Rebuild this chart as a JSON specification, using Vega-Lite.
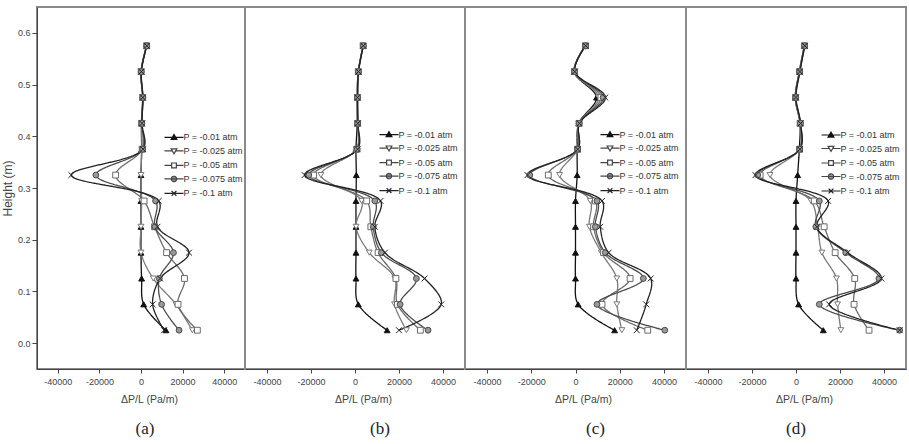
{
  "$schema": "https://vega.github.io/schema/vega-lite/v6.json",
  "padding": {"left": 0, "top": 6, "right": 4, "bottom": 0},
  "background": "white",
  "datasets": {
    "a": [
      {"series":"-0.01","height":0.025,"dpdl":12000},{"series":"-0.01","height":0.075,"dpdl":1300},{"series":"-0.01","height":0.125,"dpdl":300},{"series":"-0.01","height":0.175,"dpdl":0},{"series":"-0.01","height":0.225,"dpdl":0},{"series":"-0.01","height":0.275,"dpdl":0},{"series":"-0.01","height":0.325,"dpdl":0},{"series":"-0.01","height":0.375,"dpdl":300},{"series":"-0.01","height":0.425,"dpdl":200},{"series":"-0.01","height":0.475,"dpdl":800},{"series":"-0.01","height":0.525,"dpdl":0},{"series":"-0.01","height":0.575,"dpdl":2700},
      {"series":"-0.025","height":0.025,"dpdl":24700},{"series":"-0.025","height":0.075,"dpdl":16800},{"series":"-0.025","height":0.125,"dpdl":5900},{"series":"-0.025","height":0.175,"dpdl":0},{"series":"-0.025","height":0.225,"dpdl":0},{"series":"-0.025","height":0.275,"dpdl":300},{"series":"-0.025","height":0.325,"dpdl":0},{"series":"-0.025","height":0.375,"dpdl":400},{"series":"-0.025","height":0.425,"dpdl":300},{"series":"-0.025","height":0.475,"dpdl":800},{"series":"-0.025","height":0.525,"dpdl":0},{"series":"-0.025","height":0.575,"dpdl":2700},
      {"series":"-0.05","height":0.025,"dpdl":27100},{"series":"-0.05","height":0.075,"dpdl":17800},{"series":"-0.05","height":0.125,"dpdl":20900},{"series":"-0.05","height":0.175,"dpdl":12300},{"series":"-0.05","height":0.225,"dpdl":6500},{"series":"-0.05","height":0.275,"dpdl":1500},{"series":"-0.05","height":0.325,"dpdl":-12200},{"series":"-0.05","height":0.375,"dpdl":600},{"series":"-0.05","height":0.425,"dpdl":300},{"series":"-0.05","height":0.475,"dpdl":800},{"series":"-0.05","height":0.525,"dpdl":100},{"series":"-0.05","height":0.575,"dpdl":2700},
      {"series":"-0.075","height":0.025,"dpdl":18300},{"series":"-0.075","height":0.075,"dpdl":9900},{"series":"-0.075","height":0.125,"dpdl":8800},{"series":"-0.075","height":0.175,"dpdl":15600},{"series":"-0.075","height":0.225,"dpdl":6700},{"series":"-0.075","height":0.275,"dpdl":7000},{"series":"-0.075","height":0.325,"dpdl":-21700},{"series":"-0.075","height":0.375,"dpdl":800},{"series":"-0.075","height":0.425,"dpdl":400},{"series":"-0.075","height":0.475,"dpdl":900},{"series":"-0.075","height":0.525,"dpdl":100},{"series":"-0.075","height":0.575,"dpdl":2800},
      {"series":"-0.1","height":0.025,"dpdl":11100},{"series":"-0.1","height":0.075,"dpdl":5600},{"series":"-0.1","height":0.125,"dpdl":9200},{"series":"-0.1","height":0.175,"dpdl":23100},{"series":"-0.1","height":0.225,"dpdl":7900},{"series":"-0.1","height":0.275,"dpdl":8500},{"series":"-0.1","height":0.325,"dpdl":-33500},{"series":"-0.1","height":0.375,"dpdl":1000},{"series":"-0.1","height":0.425,"dpdl":500},{"series":"-0.1","height":0.475,"dpdl":900},{"series":"-0.1","height":0.525,"dpdl":200},{"series":"-0.1","height":0.575,"dpdl":2800}
    ],
    "b": [
      {"series":"-0.01","height":0.025,"dpdl":14600},{"series":"-0.01","height":0.075,"dpdl":1500},{"series":"-0.01","height":0.125,"dpdl":450},{"series":"-0.01","height":0.175,"dpdl":450},{"series":"-0.01","height":0.225,"dpdl":450},{"series":"-0.01","height":0.275,"dpdl":450},{"series":"-0.01","height":0.325,"dpdl":600},{"series":"-0.01","height":0.375,"dpdl":450},{"series":"-0.01","height":0.425,"dpdl":1000},{"series":"-0.01","height":0.475,"dpdl":1000},{"series":"-0.01","height":0.525,"dpdl":1500},{"series":"-0.01","height":0.575,"dpdl":3700},
      {"series":"-0.025","height":0.025,"dpdl":23400},{"series":"-0.025","height":0.075,"dpdl":18000},{"series":"-0.025","height":0.125,"dpdl":18100},{"series":"-0.025","height":0.175,"dpdl":6500},{"series":"-0.025","height":0.225,"dpdl":500},{"series":"-0.025","height":0.275,"dpdl":3000},{"series":"-0.025","height":0.325,"dpdl":-15500},{"series":"-0.025","height":0.375,"dpdl":600},{"series":"-0.025","height":0.425,"dpdl":1100},{"series":"-0.025","height":0.475,"dpdl":1000},{"series":"-0.025","height":0.525,"dpdl":1500},{"series":"-0.025","height":0.575,"dpdl":3700},
      {"series":"-0.05","height":0.025,"dpdl":29700},{"series":"-0.05","height":0.075,"dpdl":19300},{"series":"-0.05","height":0.125,"dpdl":18600},{"series":"-0.05","height":0.175,"dpdl":10500},{"series":"-0.05","height":0.225,"dpdl":7200},{"series":"-0.05","height":0.275,"dpdl":5300},{"series":"-0.05","height":0.325,"dpdl":-18800},{"series":"-0.05","height":0.375,"dpdl":800},{"series":"-0.05","height":0.425,"dpdl":1200},{"series":"-0.05","height":0.475,"dpdl":1100},{"series":"-0.05","height":0.525,"dpdl":1500},{"series":"-0.05","height":0.575,"dpdl":3700},
      {"series":"-0.075","height":0.025,"dpdl":33200},{"series":"-0.075","height":0.075,"dpdl":20500},{"series":"-0.075","height":0.125,"dpdl":27900},{"series":"-0.075","height":0.175,"dpdl":12000},{"series":"-0.075","height":0.225,"dpdl":8300},{"series":"-0.075","height":0.275,"dpdl":9000},{"series":"-0.075","height":0.325,"dpdl":-21000},{"series":"-0.075","height":0.375,"dpdl":1000},{"series":"-0.075","height":0.425,"dpdl":1200},{"series":"-0.075","height":0.475,"dpdl":1200},{"series":"-0.075","height":0.525,"dpdl":1600},{"series":"-0.075","height":0.575,"dpdl":3800},
      {"series":"-0.1","height":0.025,"dpdl":20000},{"series":"-0.1","height":0.075,"dpdl":39200},{"series":"-0.1","height":0.125,"dpdl":31600},{"series":"-0.1","height":0.175,"dpdl":13600},{"series":"-0.1","height":0.225,"dpdl":9000},{"series":"-0.1","height":0.275,"dpdl":11600},{"series":"-0.1","height":0.325,"dpdl":-22900},{"series":"-0.1","height":0.375,"dpdl":1200},{"series":"-0.1","height":0.425,"dpdl":1300},{"series":"-0.1","height":0.475,"dpdl":1200},{"series":"-0.1","height":0.525,"dpdl":1600},{"series":"-0.1","height":0.575,"dpdl":3800}
    ],
    "c": [
      {"series":"-0.01","height":0.025,"dpdl":17700},{"series":"-0.01","height":0.075,"dpdl":1200},{"series":"-0.01","height":0.125,"dpdl":0},{"series":"-0.01","height":0.175,"dpdl":0},{"series":"-0.01","height":0.225,"dpdl":0},{"series":"-0.01","height":0.275,"dpdl":0},{"series":"-0.01","height":0.325,"dpdl":750},{"series":"-0.01","height":0.375,"dpdl":750},{"series":"-0.01","height":0.425,"dpdl":1500},{"series":"-0.01","height":0.475,"dpdl":9500},{"series":"-0.01","height":0.525,"dpdl":-600},{"series":"-0.01","height":0.575,"dpdl":4400},
      {"series":"-0.025","height":0.025,"dpdl":21000},{"series":"-0.025","height":0.075,"dpdl":18700},{"series":"-0.025","height":0.125,"dpdl":18700},{"series":"-0.025","height":0.175,"dpdl":11700},{"series":"-0.025","height":0.225,"dpdl":6300},{"series":"-0.025","height":0.275,"dpdl":6700},{"series":"-0.025","height":0.325,"dpdl":-7200},{"series":"-0.025","height":0.375,"dpdl":900},{"series":"-0.025","height":0.425,"dpdl":1500},{"series":"-0.025","height":0.475,"dpdl":10500},{"series":"-0.025","height":0.525,"dpdl":-600},{"series":"-0.025","height":0.575,"dpdl":4400},
      {"series":"-0.05","height":0.025,"dpdl":32700},{"series":"-0.05","height":0.075,"dpdl":12000},{"series":"-0.05","height":0.125,"dpdl":24700},{"series":"-0.05","height":0.175,"dpdl":12700},{"series":"-0.05","height":0.225,"dpdl":8200},{"series":"-0.05","height":0.275,"dpdl":9000},{"series":"-0.05","height":0.325,"dpdl":-12300},{"series":"-0.05","height":0.375,"dpdl":900},{"series":"-0.05","height":0.425,"dpdl":1600},{"series":"-0.05","height":0.475,"dpdl":11500},{"series":"-0.05","height":0.525,"dpdl":-500},{"series":"-0.05","height":0.575,"dpdl":4500},
      {"series":"-0.075","height":0.025,"dpdl":40400},{"series":"-0.075","height":0.075,"dpdl":9700},{"series":"-0.075","height":0.125,"dpdl":30700},{"series":"-0.075","height":0.175,"dpdl":13500},{"series":"-0.075","height":0.225,"dpdl":9000},{"series":"-0.075","height":0.275,"dpdl":9700},{"series":"-0.075","height":0.325,"dpdl":-20700},{"series":"-0.075","height":0.375,"dpdl":1000},{"series":"-0.075","height":0.425,"dpdl":1700},{"series":"-0.075","height":0.475,"dpdl":12500},{"series":"-0.075","height":0.525,"dpdl":-400},{"series":"-0.075","height":0.575,"dpdl":4600},
      {"series":"-0.1","height":0.025,"dpdl":27700},{"series":"-0.1","height":0.075,"dpdl":32000},{"series":"-0.1","height":0.125,"dpdl":34000},{"series":"-0.1","height":0.175,"dpdl":15000},{"series":"-0.1","height":0.225,"dpdl":11200},{"series":"-0.1","height":0.275,"dpdl":12000},{"series":"-0.1","height":0.325,"dpdl":-21700},{"series":"-0.1","height":0.375,"dpdl":1000},{"series":"-0.1","height":0.425,"dpdl":1800},{"series":"-0.1","height":0.475,"dpdl":13500},{"series":"-0.1","height":0.525,"dpdl":-300},{"series":"-0.1","height":0.575,"dpdl":4600}
    ],
    "d": [
      {"series":"-0.01","height":0.025,"dpdl":12400},{"series":"-0.01","height":0.075,"dpdl":1200},{"series":"-0.01","height":0.125,"dpdl":0},{"series":"-0.01","height":0.175,"dpdl":0},{"series":"-0.01","height":0.225,"dpdl":0},{"series":"-0.01","height":0.275,"dpdl":0},{"series":"-0.01","height":0.325,"dpdl":750},{"series":"-0.01","height":0.375,"dpdl":1500},{"series":"-0.01","height":0.425,"dpdl":1800},{"series":"-0.01","height":0.475,"dpdl":-300},{"series":"-0.01","height":0.525,"dpdl":1500},{"series":"-0.01","height":0.575,"dpdl":3800},
      {"series":"-0.025","height":0.025,"dpdl":20400},{"series":"-0.025","height":0.075,"dpdl":18900},{"series":"-0.025","height":0.125,"dpdl":18400},{"series":"-0.025","height":0.175,"dpdl":11800},{"series":"-0.025","height":0.225,"dpdl":9800},{"series":"-0.025","height":0.275,"dpdl":6800},{"series":"-0.025","height":0.325,"dpdl":-11800},{"series":"-0.025","height":0.375,"dpdl":1500},{"series":"-0.025","height":0.425,"dpdl":1800},{"series":"-0.025","height":0.475,"dpdl":-300},{"series":"-0.025","height":0.525,"dpdl":1500},{"series":"-0.025","height":0.575,"dpdl":3800},
      {"series":"-0.05","height":0.025,"dpdl":33200},{"series":"-0.05","height":0.075,"dpdl":26400},{"series":"-0.05","height":0.125,"dpdl":26700},{"series":"-0.05","height":0.175,"dpdl":17800},{"series":"-0.05","height":0.225,"dpdl":12800},{"series":"-0.05","height":0.275,"dpdl":8300},{"series":"-0.05","height":0.325,"dpdl":-16300},{"series":"-0.05","height":0.375,"dpdl":1600},{"series":"-0.05","height":0.425,"dpdl":1900},{"series":"-0.05","height":0.475,"dpdl":-200},{"series":"-0.05","height":0.525,"dpdl":1600},{"series":"-0.05","height":0.575,"dpdl":3900},
      {"series":"-0.075","height":0.025,"dpdl":47100},{"series":"-0.075","height":0.075,"dpdl":10600},{"series":"-0.075","height":0.125,"dpdl":37700},{"series":"-0.075","height":0.175,"dpdl":22600},{"series":"-0.075","height":0.225,"dpdl":9000},{"series":"-0.075","height":0.275,"dpdl":10600},{"series":"-0.075","height":0.325,"dpdl":-17400},{"series":"-0.075","height":0.375,"dpdl":1700},{"series":"-0.075","height":0.425,"dpdl":2000},{"series":"-0.075","height":0.475,"dpdl":-100},{"series":"-0.075","height":0.525,"dpdl":1700},{"series":"-0.075","height":0.575,"dpdl":3900},
      {"series":"-0.1","height":0.025,"dpdl":47100},{"series":"-0.1","height":0.075,"dpdl":15100},{"series":"-0.1","height":0.125,"dpdl":38800},{"series":"-0.1","height":0.175,"dpdl":23500},{"series":"-0.1","height":0.225,"dpdl":9500},{"series":"-0.1","height":0.275,"dpdl":14600},{"series":"-0.1","height":0.325,"dpdl":-18400},{"series":"-0.1","height":0.375,"dpdl":1800},{"series":"-0.1","height":0.425,"dpdl":2100},{"series":"-0.1","height":0.475,"dpdl":0},{"series":"-0.1","height":0.525,"dpdl":1800},{"series":"-0.1","height":0.575,"dpdl":4000}
    ]
  },
  "resolve": {
    "scale": {"x": "independent", "y": "independent", "shape": "independent", "fill": "independent", "stroke": "independent", "strokeDash": "independent"},
    "legend": {"shape": "independent", "fill": "independent", "stroke": "independent", "strokeDash": "independent"}
  },
  "spacing": 0,
  "bounds": "flush",
  "hconcat": [
    {
      "width": 208, "height": 362,
      "data": {"name": "a"},
      "title": {"text": "(a)", "dx": 4},
      "encoding": {
        "x": {"field": "dpdl", "type": "quantitative", "scale": {"domain": [-50000, 50000], "nice": false},
              "axis": {"values": [-40000, -20000, 0, 20000, 40000], "labelExpr": "'' + datum.value", "title": "ΔP/L (Pa/m)", "titleX": 112}},
        "y": {"field": "height", "type": "quantitative", "scale": {"domain": [-0.05, 0.65], "nice": false, "zero": false},
              "axis": {"values": [0, 0.1, 0.2, 0.3, 0.4, 0.5, 0.6], "format": ".1f", "title": "Height (m)", "tickSize": 5, "labelPadding": 2, "titlePadding": 3, "titleFontSize": 12}},
        "stroke": {"field": "series", "type": "nominal", "scale": {"domain": ["-0.1", "-0.075", "-0.05", "-0.025", "-0.01"], "range": ["#222222", "#4a4a4a", "#6a6a6a", "#7a7a7a", "#111111"]}, "legend": null}
      },
      "layer": [
        {
          "mark": {"type": "line", "interpolate": "catmull-rom", "strokeWidth": 1.3},
          "encoding": {
            "order": {"field": "height", "type": "quantitative"},
            "strokeDash": {"field": "series", "type": "nominal",
              "scale": {"domain": ["-0.01", "-0.025", "-0.05", "-0.075", "-0.1"], "range": [[1, 0], [1, 0], [1, 0], [1, 0], [1, 0]]},
              "legend": {"orient": "none", "legendX": 129, "legendY": 122.4, "title": null, "padding": 0, "symbolSize": 196, "labelOffset": 1.5, "rowPadding": 0.5,
                "labelExpr": "'P = ' + datum.label + ' atm'", "labelFontSize": 9, "labelColor": "#333", "symbolStrokeWidth": 1.2,
                "encode": {"symbols": {"update": {
                  "shape": {"signal": "datum.value === '-0.01' ? 'M-1.36,0H1.36M0,-0.41L0.41,0.3L-0.41,0.3Z' : datum.value === '-0.025' ? 'M-1.36,0H-0.23M0.23,0H1.36M-0.41,-0.3L0.41,-0.3L0,0.41Z' : datum.value === '-0.05' ? 'M-1.36,0H-0.34M0.34,0H1.36M-0.34,-0.34H0.34V0.34H-0.34Z' : datum.value === '-0.075' ? 'M-1.36,0H1.36M0.38,0A0.38,0.38 0 1,1 -0.38,0A0.38,0.38 0 1,1 0.38,0Z' : 'M-1.36,0H1.36M-0.34,-0.34L0.34,0.34M-0.34,0.34L0.34,-0.34'"},
                  "fill": {"signal": "datum.value === '-0.01' ? '#111' : datum.value === '-0.075' ? '#999' : '#fff'"},
                  "stroke": {"signal": "datum.value === '-0.01' ? '#111' : datum.value === '-0.1' ? '#222' : '#444'"}
                }}}}}
          }
        },
        {
          "mark": {"type": "point", "size": 34, "strokeWidth": 1, "opacity": 1},
          "encoding": {
            "shape": {"field": "series", "type": "nominal", "scale": {"domain": ["-0.1", "-0.075", "-0.05", "-0.025", "-0.01"], "range": ["M-1,-1L1,1M-1,1L1,-1", "circle", "square", "triangle-down", "triangle-up"]}, "legend": null},
            "fill": {"field": "series", "type": "nominal", "scale": {"domain": ["-0.1", "-0.075", "-0.05", "-0.025", "-0.01"], "range": ["#333333", "#999999", "#ffffff", "#ffffff", "#111111"]}, "legend": null}
          }
        }
      ]
    },
    {
      "width": 220, "height": 362,
      "data": {"name": "b"},
      "title": {"text": "(b)", "dx": 25},
      "encoding": {
        "x": {"field": "dpdl", "type": "quantitative", "scale": {"domain": [-50000, 50000], "nice": false},
              "axis": {"values": [-40000, -20000, 0, 20000, 40000], "labelExpr": "'' + datum.value", "title": "ΔP/L (Pa/m)", "titleX": 118}},
        "y": {"field": "height", "type": "quantitative", "scale": {"domain": [-0.05, 0.65], "nice": false, "zero": false}, "axis": null},
        "stroke": {"field": "series", "type": "nominal", "scale": {"domain": ["-0.1", "-0.075", "-0.05", "-0.025", "-0.01"], "range": ["#222222", "#4a4a4a", "#6a6a6a", "#7a7a7a", "#111111"]}, "legend": null}
      },
      "layer": [
        {
          "mark": {"type": "line", "interpolate": "catmull-rom", "strokeWidth": 1.3},
          "encoding": {
            "order": {"field": "height", "type": "quantitative"},
            "strokeDash": {"field": "series", "type": "nominal",
              "scale": {"domain": ["-0.01", "-0.025", "-0.05", "-0.075", "-0.1"], "range": [[1, 0], [1, 0], [1, 0], [1, 0], [1, 0]]},
              "legend": {"orient": "none", "legendX": 136, "legendY": 119.6, "title": null, "padding": 0, "symbolSize": 196, "labelOffset": 1.5, "rowPadding": 0.5,
                "labelExpr": "'P = ' + datum.label + ' atm'", "labelFontSize": 9, "labelColor": "#333", "symbolStrokeWidth": 1.2,
                "encode": {"symbols": {"update": {
                  "shape": {"signal": "datum.value === '-0.01' ? 'M-1.36,0H1.36M0,-0.41L0.41,0.3L-0.41,0.3Z' : datum.value === '-0.025' ? 'M-1.36,0H-0.23M0.23,0H1.36M-0.41,-0.3L0.41,-0.3L0,0.41Z' : datum.value === '-0.05' ? 'M-1.36,0H-0.34M0.34,0H1.36M-0.34,-0.34H0.34V0.34H-0.34Z' : datum.value === '-0.075' ? 'M-1.36,0H1.36M0.38,0A0.38,0.38 0 1,1 -0.38,0A0.38,0.38 0 1,1 0.38,0Z' : 'M-1.36,0H1.36M-0.34,-0.34L0.34,0.34M-0.34,0.34L0.34,-0.34'"},
                  "fill": {"signal": "datum.value === '-0.01' ? '#111' : datum.value === '-0.075' ? '#999' : '#fff'"},
                  "stroke": {"signal": "datum.value === '-0.01' ? '#111' : datum.value === '-0.1' ? '#222' : '#444'"}
                }}}}}
          }
        },
        {
          "mark": {"type": "point", "size": 34, "strokeWidth": 1, "opacity": 1},
          "encoding": {
            "shape": {"field": "series", "type": "nominal", "scale": {"domain": ["-0.1", "-0.075", "-0.05", "-0.025", "-0.01"], "range": ["M-1,-1L1,1M-1,1L1,-1", "circle", "square", "triangle-down", "triangle-up"]}, "legend": null},
            "fill": {"field": "series", "type": "nominal", "scale": {"domain": ["-0.1", "-0.075", "-0.05", "-0.025", "-0.01"], "range": ["#333333", "#999999", "#ffffff", "#ffffff", "#111111"]}, "legend": null}
          }
        }
      ]
    },
    {
      "width": 221, "height": 362,
      "data": {"name": "c"},
      "title": {"text": "(c)", "dx": 20},
      "encoding": {
        "x": {"field": "dpdl", "type": "quantitative", "scale": {"domain": [-50000, 50000], "nice": false},
              "axis": {"values": [-40000, -20000, 0, 20000, 40000], "labelExpr": "'' + datum.value", "title": "ΔP/L (Pa/m)", "titleX": 118}},
        "y": {"field": "height", "type": "quantitative", "scale": {"domain": [-0.05, 0.65], "nice": false, "zero": false}, "axis": null},
        "stroke": {"field": "series", "type": "nominal", "scale": {"domain": ["-0.1", "-0.075", "-0.05", "-0.025", "-0.01"], "range": ["#222222", "#4a4a4a", "#6a6a6a", "#7a7a7a", "#111111"]}, "legend": null}
      },
      "layer": [
        {
          "mark": {"type": "line", "interpolate": "catmull-rom", "strokeWidth": 1.3},
          "encoding": {
            "order": {"field": "height", "type": "quantitative"},
            "strokeDash": {"field": "series", "type": "nominal",
              "scale": {"domain": ["-0.01", "-0.025", "-0.05", "-0.075", "-0.1"], "range": [[1, 0], [1, 0], [1, 0], [1, 0], [1, 0]]},
              "legend": {"orient": "none", "legendX": 137, "legendY": 119.6, "title": null, "padding": 0, "symbolSize": 196, "labelOffset": 1.5, "rowPadding": 0.5,
                "labelExpr": "'P = ' + datum.label + ' atm'", "labelFontSize": 9, "labelColor": "#333", "symbolStrokeWidth": 1.2,
                "encode": {"symbols": {"update": {
                  "shape": {"signal": "datum.value === '-0.01' ? 'M-1.36,0H1.36M0,-0.41L0.41,0.3L-0.41,0.3Z' : datum.value === '-0.025' ? 'M-1.36,0H-0.23M0.23,0H1.36M-0.41,-0.3L0.41,-0.3L0,0.41Z' : datum.value === '-0.05' ? 'M-1.36,0H-0.34M0.34,0H1.36M-0.34,-0.34H0.34V0.34H-0.34Z' : datum.value === '-0.075' ? 'M-1.36,0H1.36M0.38,0A0.38,0.38 0 1,1 -0.38,0A0.38,0.38 0 1,1 0.38,0Z' : 'M-1.36,0H1.36M-0.34,-0.34L0.34,0.34M-0.34,0.34L0.34,-0.34'"},
                  "fill": {"signal": "datum.value === '-0.01' ? '#111' : datum.value === '-0.075' ? '#999' : '#fff'"},
                  "stroke": {"signal": "datum.value === '-0.01' ? '#111' : datum.value === '-0.1' ? '#222' : '#444'"}
                }}}}}
          }
        },
        {
          "mark": {"type": "point", "size": 34, "strokeWidth": 1, "opacity": 1},
          "encoding": {
            "shape": {"field": "series", "type": "nominal", "scale": {"domain": ["-0.1", "-0.075", "-0.05", "-0.025", "-0.01"], "range": ["M-1,-1L1,1M-1,1L1,-1", "circle", "square", "triangle-down", "triangle-up"]}, "legend": null},
            "fill": {"field": "series", "type": "nominal", "scale": {"domain": ["-0.1", "-0.075", "-0.05", "-0.025", "-0.01"], "range": ["#333333", "#999999", "#ffffff", "#ffffff", "#111111"]}, "legend": null}
          }
        }
      ]
    },
    {
      "width": 220, "height": 362,
      "data": {"name": "d"},
      "title": {"text": "(d)", "dx": 0},
      "encoding": {
        "x": {"field": "dpdl", "type": "quantitative", "scale": {"domain": [-50000, 50000], "nice": false},
              "axis": {"values": [-40000, -20000, 0, 20000, 40000], "labelExpr": "'' + datum.value", "title": "ΔP/L (Pa/m)", "titleX": 118}},
        "y": {"field": "height", "type": "quantitative", "scale": {"domain": [-0.05, 0.65], "nice": false, "zero": false}, "axis": null},
        "stroke": {"field": "series", "type": "nominal", "scale": {"domain": ["-0.1", "-0.075", "-0.05", "-0.025", "-0.01"], "range": ["#222222", "#4a4a4a", "#6a6a6a", "#7a7a7a", "#111111"]}, "legend": null}
      },
      "layer": [
        {
          "mark": {"type": "line", "interpolate": "catmull-rom", "strokeWidth": 1.3},
          "encoding": {
            "order": {"field": "height", "type": "quantitative"},
            "strokeDash": {"field": "series", "type": "nominal",
              "scale": {"domain": ["-0.01", "-0.025", "-0.05", "-0.075", "-0.1"], "range": [[1, 0], [1, 0], [1, 0], [1, 0], [1, 0]]},
              "legend": {"orient": "none", "legendX": 137, "legendY": 120, "title": null, "padding": 0, "symbolSize": 196, "labelOffset": 1.5, "rowPadding": 0.5,
                "labelExpr": "'P = ' + datum.label + ' atm'", "labelFontSize": 9, "labelColor": "#333", "symbolStrokeWidth": 1.2,
                "encode": {"symbols": {"update": {
                  "shape": {"signal": "datum.value === '-0.01' ? 'M-1.36,0H1.36M0,-0.41L0.41,0.3L-0.41,0.3Z' : datum.value === '-0.025' ? 'M-1.36,0H-0.23M0.23,0H1.36M-0.41,-0.3L0.41,-0.3L0,0.41Z' : datum.value === '-0.05' ? 'M-1.36,0H-0.34M0.34,0H1.36M-0.34,-0.34H0.34V0.34H-0.34Z' : datum.value === '-0.075' ? 'M-1.36,0H1.36M0.38,0A0.38,0.38 0 1,1 -0.38,0A0.38,0.38 0 1,1 0.38,0Z' : 'M-1.36,0H1.36M-0.34,-0.34L0.34,0.34M-0.34,0.34L0.34,-0.34'"},
                  "fill": {"signal": "datum.value === '-0.01' ? '#111' : datum.value === '-0.075' ? '#999' : '#fff'"},
                  "stroke": {"signal": "datum.value === '-0.01' ? '#111' : datum.value === '-0.1' ? '#222' : '#444'"}
                }}}}}
          }
        },
        {
          "mark": {"type": "point", "size": 34, "strokeWidth": 1, "opacity": 1},
          "encoding": {
            "shape": {"field": "series", "type": "nominal", "scale": {"domain": ["-0.1", "-0.075", "-0.05", "-0.025", "-0.01"], "range": ["M-1,-1L1,1M-1,1L1,-1", "circle", "square", "triangle-down", "triangle-up"]}, "legend": null},
            "fill": {"field": "series", "type": "nominal", "scale": {"domain": ["-0.1", "-0.075", "-0.05", "-0.025", "-0.01"], "range": ["#333333", "#999999", "#ffffff", "#ffffff", "#111111"]}, "legend": null}
          }
        }
      ]
    }
  ],
  "config": {
    "font": "Liberation Sans",
    "view": {"stroke": "#8a8a8a", "strokeWidth": 2},
    "axis": {"grid": false, "labelFont": "Liberation Sans", "labelFontSize": 9, "labelColor": "#444", "titleFont": "Liberation Sans", "titleFontWeight": "normal", "titleColor": "#444", "domainColor": "#444", "domainWidth": 1, "tickColor": "#444"},
    "axisX": {"tickSize": 4, "labelPadding": 4, "titleFontSize": 10.5, "titlePadding": 8, "labelFlush": false},
    "legend": {"labelFont": "Liberation Sans"},
    "title": {"orient": "bottom", "font": "Liberation Serif", "fontSize": 17, "fontWeight": "normal", "color": "#222", "frame": "group", "anchor": "middle", "offset": 16}
  }
}
